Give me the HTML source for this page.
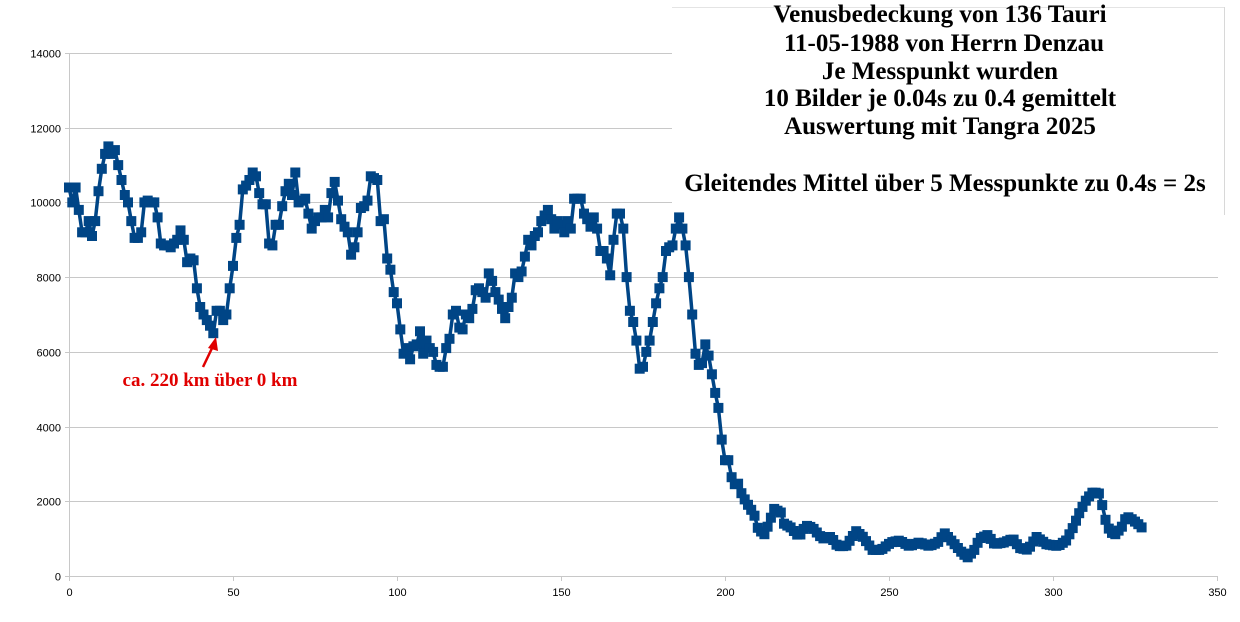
<!DOCTYPE html>
<html><head><meta charset="utf-8"><style>
html,body{margin:0;padding:0;background:#fff;}
body{width:1240px;height:622px;position:relative;overflow:hidden;}
svg{position:absolute;left:0;top:0;}
</style></head><body>
<svg id="s" width="1240" height="622" xmlns="http://www.w3.org/2000/svg" font-family="Liberation Sans, sans-serif">
<g id="grid" stroke="#c8c8c8" stroke-width="1"></g>
<g id="lab" font-size="11" fill="#000"></g>
<rect x="672" y="0" width="552" height="210" fill="#fff"/>
<line x1="672" y1="7.5" x2="1224" y2="7.5" stroke="#e4e4e4"/>
<line x1="1224.5" y1="7" x2="1224.5" y2="215" stroke="#d8d8d8"/>
<g id="plot"></g>
<g font-family="Liberation Serif, serif" font-weight="bold" font-size="25" text-anchor="middle" fill="#000">
<text x="940" y="22">Venusbedeckung von 136 Tauri</text>
<text x="944" y="51">11-05-1988 von Herrn Denzau</text>
<text x="940" y="79">Je Messpunkt wurden</text>
<text x="940" y="106">10 Bilder je 0.04s zu 0.4 gemittelt</text>
<text x="940" y="134">Auswertung mit Tangra 2025</text>
<text x="945" y="191">Gleitendes Mittel über 5 Messpunkte zu 0.4s = 2s</text>
</g>
<text x="210" y="386" font-family="Liberation Serif, serif" font-weight="bold" font-size="19" fill="#e00000" text-anchor="middle">ca. 220 km über 0 km</text>
<line x1="203" y1="367" x2="214" y2="344" stroke="#e00000" stroke-width="2.5"/>
<polygon points="216,337 208,348 218,351" fill="#e00000"/>
</svg>
<script>
var X0=69,XS=1148/350,Y0=576,YS=523/14000;
var ns="http://www.w3.org/2000/svg";
function el(t,a,p){var e=document.createElementNS(ns,t);for(var k in a)e.setAttribute(k,a[k]);p.appendChild(e);return e;}
var g=document.getElementById('grid'),l=document.getElementById('lab');
for(var v=0;v<=14000;v+=2000){var y=Y0-v*YS;y=Math.round(y)+0.5;
 el('line',{x1:X0-4,x2:1218,y1:y,y2:y},g);
 var t=el('text',{x:61,y:y+4,'text-anchor':'end'},l);t.textContent=v;}
el('line',{x1:X0+0.5,x2:X0+0.5,y1:53,y2:580},g);
for(var x=0;x<=350;x+=50){var px=Math.round(X0+x*XS)+0.5;
 el('line',{x1:px,x2:px,y1:576,y2:581},g);
 var t=el('text',{x:px,y:596,'text-anchor':'middle'},l);t.textContent=x;}
var a=[10400,10000,10400,9800,9200,9200,9500,9100,9500,10300,10900,11300,11500,11300,11400,11000,10600,10200,10000,9500,9050,9050,9200,10000,10050,10000,10000,9600,8900,8850,8850,8800,8900,9000,9250,9000,8400,8500,8450,7700,7200,7000,6850,6700,6500,7100,7100,6850,7000,7700,8300,9050,9400,10350,10450,10600,10800,10700,10250,9950,9950,8900,8850,9400,9400,9900,10300,10500,10200,10800,10000,10050,10100,9700,9300,9500,9600,9600,9800,9600,10250,10550,10050,9550,9350,9200,8600,8800,9200,9850,9900,10050,10700,10650,10600,9500,9550,8500,8200,7600,7300,6600,5950,6100,5800,6150,6200,6550,5950,6300,6100,6000,5650,5600,5600,6100,6350,7000,7100,6650,6600,7000,6900,7150,7650,7700,7600,7450,8100,7900,7600,7400,7150,6900,7200,7450,8100,8000,8150,8550,9000,8850,9100,9200,9500,9650,9800,9550,9300,9500,9400,9200,9500,9300,10100,10100,10100,9700,9550,9350,9600,9300,8700,8700,8500,8050,9000,9700,9700,9300,8000,7100,6800,6300,5550,5600,6000,6300,6800,7300,7700,8000,8700,8800,8850,9300,9600,9300,8850,8000,7000,5950,5650,5700,6200,5900,5400,4900,4500,3650,3100,3100];
var kp=[];for(var i=0;i<a.length;i++)kp.push([i,a[i]]);
var tail=[[201.7,2700],[203.3,2400],[204.3,2500],[204.8,2250],[206.3,2000],[207.8,1800],[208.9,1650],[209.9,1300],[211.9,1100],[213.4,1400],[214.9,1800],[217,1700],[218,1400],[220,1300],[222.6,1050],[224.6,1350],[226.6,1300],[229.7,1000],[232.3,1050],[234.3,800],[236.9,800],[240,1200],[242,1050],[245,700],[247.6,700],[250.6,900],[253.2,950],[256.2,800],[259.3,900],[262.3,800],[264.9,900],[266.9,1150],[269.5,900],[272.5,600],[274,500],[276,700],[277.6,1000],[280.1,1100],[282.2,850],[285.2,900],[287.8,1000],[289.8,750],[292.4,700],[294.9,1050],[298,850],[301.5,800],[304,950],[306.1,1300],[308.1,1700],[310.2,2050],[312.2,2250],[314.3,2200],[315.8,1550],[317.3,1200],[318.8,1100],[320.9,1300],[322.4,1600],[324.4,1500],[326.5,1350],[327.5,1250]];
kp=kp.concat(tail);
function f(x){for(var i=1;i<kp.length;i++){if(kp[i][0]>=x){var p=kp[i-1],q=kp[i];var t=(x-p[0])/(q[0]-p[0]);return p[1]+t*(q[1]-p[1]);}}return kp[kp.length-1][1];}
var pts=[];for(var x=0;x<=327;x++){pts.push([X0+x*XS,Y0-f(x)*YS]);}
var P=document.getElementById('plot');
el('polyline',{points:pts.map(function(p){return p[0].toFixed(1)+','+p[1].toFixed(1)}).join(' '),fill:'none',stroke:'#004586','stroke-width':3.5,'stroke-linejoin':'round'},P);
pts.forEach(function(p){el('rect',{x:(p[0]-5).toFixed(1),y:(p[1]-5).toFixed(1),width:10,height:10,fill:'#004586'},P);});
</script>
</body></html>
